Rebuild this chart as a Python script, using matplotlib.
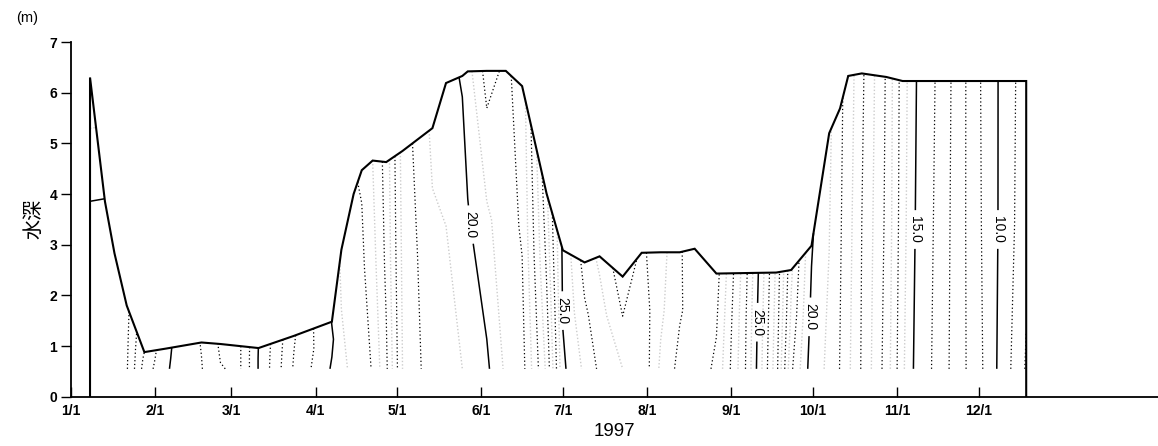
import numpy as np
import matplotlib
matplotlib.use("Agg")
import matplotlib.pyplot as plt

# survey days (days after 1/1, 1997) and water depth at each survey (m)
days = [7, 12.5, 16, 20.5, 27, 35, 48, 55, 62, 69,
        82, 96, 99.5, 104, 107, 111, 116, 122, 133, 138,
        144, 146, 153, 160, 166, 175, 181, 189, 194.5, 203,
        210, 217, 224, 229.5, 237.5, 248, 259.5, 265, 272.5, 279,
        283, 286, 291, 300, 306, 320, 335, 351.5]
water_depth = [6.30, 3.85, 2.83, 1.80, 0.88, 0.95, 1.07, 1.04, 1.00, 0.96,
               1.20, 1.48, 2.90, 4.00, 4.47, 4.66, 4.63, 4.85, 5.30, 6.19,
               6.33, 6.42, 6.43, 6.43, 6.13, 4.01, 2.89, 2.65, 2.77, 2.37,
               2.84, 2.85, 2.85, 2.92, 2.43, 2.44, 2.45, 2.50, 2.98, 5.20,
               5.69, 6.33, 6.38, 6.31, 6.23, 6.23, 6.23, 6.23]

# water temperature (deg C): lowest gauge, half depth, surface
temp_bottom = [14.5, 14.6, 14.5, 14.1, 11.6, 10.1, 9.05, 8.05, 7.85, 10.05,
               13.1, 15.1, 15.4, 15.6, 15.7, 16.05, 16.9, 18.5, 19.3, 19.4,
               19.5, 19.6, 19.9, 20.6, 20.8, 22.6, 24.9, 25.6, 26.1, 26.5,
               26.6, 27.6, 28.15, 28.3, 27.9, 26.05, 23.2, 21.1, 19.75, 19.4,
               18.98, 18.6, 17.95, 16.8, 15.6, 13.5, 11.1, 7.9]
temp_mid = [14.85, 14.7, 14.6, 14.2, 11.8, 10.15, 9.0, 7.95, 7.85, 10.05,
            13.0, 14.9, 15.5, 15.8, 15.9, 16.3, 17.1, 18.6, 19.4, 19.5,
            19.7, 19.95, 20.4, 20.8, 21.05, 23.0, 25.05, 25.9, 26.3, 26.95,
            26.7, 27.4, 27.95, 28.2, 28.05, 26.1, 23.3, 21.4, 19.9, 19.5,
            19.05, 18.7, 18.0, 16.9, 15.7, 13.6, 11.0, 8.3]
temp_surface = [15.85, 14.98, 14.7, 14.3, 12.0, 10.2, 8.95, 7.85, 7.85, 10.02,
                12.9, 15.02, 15.6, 15.95, 16.05, 16.5, 17.2, 18.7, 19.6, 19.8,
                20.05, 20.3, 21.2, 20.9, 21.2, 23.4, 25.1, 26.2, 26.6, 27.3,
                26.9, 27.3, 27.9, 28.5, 28.2, 26.2, 23.4, 21.6, 20.05, 19.6,
                19.1, 18.8, 18.1, 16.95, 15.75, 13.7, 10.95, 8.4]
gauge_depth = 0.55

month_days = [0, 31, 59, 90, 120, 151, 181, 212, 243, 273, 304, 334]
month_labels = ["1/1", "2/1", "3/1", "4/1", "5/1", "6/1",
                "7/1", "8/1", "9/1", "10/1", "11/1", "12/1"]

# where the isotherm labels sit (day, depth)
label_spots = [(147.5, 3.4), (181.5, 1.7), (252, 1.47),
               (270, 1.58), (309.7, 3.3), (341, 3.3)]

W, H = 1158, 446
fig = plt.figure(figsize=(W / 100, H / 100), dpi=100)
ax = fig.add_axes([71 / W, 49.3 / H, 1 - 71 / W, 354.7 / H])
ax.set_xlim(0, 400)
ax.set_ylim(0, 7)

# --- temperature field on a grid that follows the water surface ---
n = len(days)
depth_arr = np.array(water_depth)
gx = np.tile(np.array(days, dtype=float), (3, 1))
gy = np.vstack([np.full(n, gauge_depth), (gauge_depth + depth_arr) / 2, depth_arr])
gz = np.vstack([temp_bottom, temp_mid, temp_surface])

levels = np.arange(1, 31)
minor = [lv for lv in levels if lv % 5]
major = [10, 15, 20, 25]
halves = np.arange(15.5, 28, 1.0)   # faint grey half-degree isotherms
ax.contour(gx, gy, gz, levels=halves, colors="0.8", linewidths=1.0,
           linestyles=[(0, (1, 1.5))])
ax.contour(gx, gy, gz, levels=minor, colors="k", linewidths=0.9,
           linestyles=[(0, (1, 2.0))])
cs = ax.contour(gx, gy, gz, levels=major, colors="k", linewidths=1.1)
lbls = ax.clabel(cs, fmt="%.1f", fontsize=10,
                 inline=True, inline_spacing=4, manual=label_spots)
for t in lbls:
    t.set_rotation(-90)
    t.set_family("Liberation Sans")

# water surface + data edges
ax.plot([days[0]] + days + [days[-1]], [0] + water_depth + [0],
        color="k", lw=1.5, solid_joinstyle="miter")

# --- axes styling ---
for s in ["top", "right"]:
    ax.spines[s].set_visible(False)
for s in ["left", "bottom"]:
    ax.spines[s].set_linewidth(1.3)
ax.set_xticks(month_days)
ax.set_xticklabels(month_labels)
ax.set_yticks(range(0, 8))
ax.tick_params(axis="x", direction="in", length=7, width=1, pad=5)
ax.tick_params(axis="y", direction="out", length=7, width=1, pad=3)
for lbl in ax.get_xticklabels() + ax.get_yticklabels():
    lbl.set_fontweight("bold")
    lbl.set_family("Liberation Sans")
    lbl.set_fontsize(10)

ax.set_xlabel("1997", fontsize=13.5, family="Liberation Sans", labelpad=4)
fig.text(27 / W, 1 - 18 / H, "(m)", fontsize=10.5, family="Liberation Sans",
         ha="center", va="center")
fig.text(34 / W, 1 - 219 / H, "水深", fontsize=14.5, rotation=90,
         family=["Noto Sans CJK JP", "DejaVu Sans"], ha="center", va="center")

fig.savefig("out.png", dpi=100)
